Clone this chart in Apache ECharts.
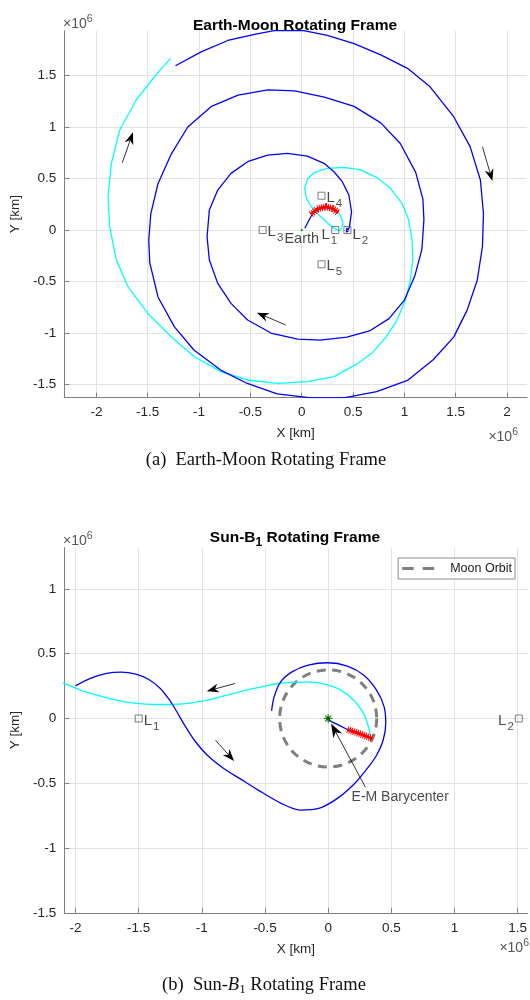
<!DOCTYPE html>
<html>
<head>
<meta charset="utf-8">
<script src="https://cdn.jsdelivr.net/npm/echarts@6/dist/echarts.min.js"></script>
<style>
html,body{margin:0;padding:0;background:#fff;}
#chart{width:530px;height:1000px;}
</style>
</head>
<body>
<div id="chart"></div>
<script>
// ---------- Earth-Moon rotating frame (units: 10^6 km) ----------
const emTicksX = [-2, -1.5, -1, -0.5, 0, 0.5, 1, 1.5, 2];
const emTicksY = [-1.5, -1, -0.5, 0, 0.5, 1, 1.5];

// spiral leg arriving at L2
const emSpiral = [
  [-1.23,1.595],[-0.98,1.73],[-0.72,1.84],[-0.46,1.90],[-0.27,1.935],[0.02,1.935],[0.25,1.89],
  [0.51,1.81],[0.77,1.70],[1.03,1.57],[1.25,1.39],[1.48,1.10],[1.64,0.81],[1.74,0.485],[1.77,0.16],
  [1.76,-0.16],[1.71,-0.485],[1.61,-0.78],[1.48,-1.04],[1.28,-1.26],[1.03,-1.46],[0.73,-1.57],
  [0.41,-1.63],[0.09,-1.63],[-0.24,-1.59],[-0.53,-1.49],[-0.79,-1.36],[-1.05,-1.165],[-1.24,-0.94],
  [-1.40,-0.65],[-1.48,-0.32],[-1.49,-0.10],[-1.47,0.16],[-1.40,0.45],[-1.27,0.74],[-1.11,1.00],
  [-0.88,1.20],[-0.62,1.31],[-0.33,1.36],[-0.07,1.35],[0.22,1.29],[0.51,1.20],[0.77,1.04],[0.96,0.84],
  [1.11,0.56],[1.18,0.30],[1.19,0.10],[1.17,-0.19],[1.10,-0.45],[1.00,-0.68],[0.85,-0.86],[0.66,-0.98],
  [0.44,-1.04],[0.18,-1.07],[-0.04,-1.06],[-0.30,-1.00],[-0.527,-0.874],[-0.689,-0.712],[-0.818,-0.518],
  [-0.90,-0.291],[-0.922,-0.065],[-0.90,0.194],[-0.818,0.388],[-0.689,0.55],[-0.527,0.663],[-0.333,0.728],
  [-0.139,0.744],[0.055,0.718],[0.217,0.647],[0.314,0.566],[0.395,0.469],[0.459,0.34],[0.485,0.178],
  [0.465,0.03],[0.45,0.0],[0.44,0.02],[0.425,0.005],[0.435,-0.02],[0.455,-0.01]
];
// leg leaving the thrust arc
const emCoast = [
  [0.356,0.168],[0.385,0.123],[0.401,0.065],[0.388,0.016],[0.362,-0.007],[0.314,0.016],[0.249,0.071],
  [0.168,0.146],[0.094,0.226],[0.045,0.307],[0.029,0.405],[0.055,0.492],[0.126,0.560],[0.249,0.599],
  [0.411,0.609],[0.573,0.583],[0.735,0.508],[0.864,0.405],[0.977,0.259],[1.042,0.097],[1.075,-0.097],
  [1.081,-0.291],[1.058,-0.485],[1.010,-0.68],[0.929,-0.874],[0.82,-1.04],[0.69,-1.19],[0.54,-1.30],
  [0.314,-1.424],[0.055,-1.472],[-0.236,-1.489],[-0.528,-1.456],[-0.786,-1.375],[-1.045,-1.23],
  [-1.272,-1.036],[-1.498,-0.81],[-1.693,-0.55],[-1.806,-0.29],[-1.871,0.032],[-1.887,0.324],
  [-1.854,0.647],[-1.773,0.971],[-1.612,1.262],[-1.434,1.489],[-1.278,1.667]
];
const emLaunch = [[0.03,0.017],[0.065,0.085],[0.10,0.15]];
const emThrust = [[0.09,0.152],[0.152,0.204],[0.233,0.226],[0.298,0.210],[0.356,0.168]];
const emPoints = [
  {name:'L1', x:0.326, y:0},
  {name:'L2', x:0.445, y:0},
  {name:'L3', x:-0.381, y:0},
  {name:'L4', x:0.192, y:0.333},
  {name:'L5', x:0.192, y:-0.333}
];
const emArrows = [
  [-1.748,0.653,-1.644,0.948],
  [-0.155,-0.922,-0.437,-0.803],
  [1.76,0.809,1.857,0.476]
];

// ---------- Sun-B1 rotating frame (units: 10^6 km) ----------
const sbTicksX = [-2, -1.5, -1, -0.5, 0, 0.5, 1, 1.5];
const sbTicksY = [-1.5, -1, -0.5, 0, 0.5, 1];

const sbSpiral = [
  [-2.0,0.252],[-1.883,0.309],[-1.754,0.348],[-1.638,0.358],[-1.522,0.342],[-1.42,0.301],[-1.329,0.232],
  [-1.265,0.155],[-1.213,0.077],[-1.136,-0.052],[-1.059,-0.168],[-0.956,-0.284],[-0.827,-0.386],
  [-0.699,-0.464],[-0.554,-0.553],[-0.376,-0.653],[-0.222,-0.707],[-0.067,-0.692],[0.087,-0.607],
  [0.219,-0.492],[0.319,-0.374],[0.383,-0.284],[0.435,-0.168],[0.456,-0.039],[0.443,0.09],[0.383,0.219],
  [0.28,0.335],[0.152,0.404],[-0.003,0.43],[-0.158,0.412],[-0.286,0.36],[-0.376,0.283],[-0.428,0.167],
  [-0.448,0.059]
];
const sbCoast = [
  [-2.12,0.285],[-1.96,0.219],[-1.83,0.18],[-1.677,0.141],[-1.522,0.116],[-1.368,0.108],[-1.24,0.108],
  [-1.11,0.116],[-0.956,0.141],[-0.80,0.18],[-0.647,0.219],[-0.492,0.252],[-0.38,0.272],[-0.286,0.278],
  [-0.158,0.283],[-0.029,0.265],[0.10,0.219],[0.203,0.141],[0.28,0.039],[0.319,-0.065],[0.337,-0.142]
];
const sbLaunch = [[0.002,-0.013],[0.08,-0.05],[0.152,-0.085]];
const sbThrust = [[0.152,-0.085],[0.25,-0.118],[0.352,-0.155]];
const sbPoints = [
  {name:'L1', x:-1.5, y:0},
  {name:'L2', x:1.509, y:0}
];
const sbArrows = [
  [-0.737,0.27,-0.961,0.211],
  [-0.892,-0.168,-0.745,-0.328]
];
const sbBaryArrow = [[0.295,-0.53,0.023,-0.039]];
const sbBaryLabel = [0.57,-0.608];
const moonOrbit = [[0, 0, 0.3844]];   // centre x, centre y, radius

// ---------- styling ----------
const FONT = '"Liberation Sans", Arial, Helvetica, sans-serif';
const SERIF = '"Liberation Serif", "Times New Roman", serif';
const TXT = '#262626';
const BLUE = '#0000ff', CYAN = '#00ffff', RED = '#ff0000', ORBIT = '#808080';

function valueAxis(grid, min, max, ticks, name, nameGap) {
  return {
    type: 'value', gridIndex: grid, min: min, max: max,
    name: name, nameLocation: 'middle', nameGap: nameGap,
    nameTextStyle: {color: TXT, fontSize: 13.5, fontFamily: FONT},
    axisLine: {show: true, onZero: false, lineStyle: {color: '#7f7f7f', width: 1}},
    axisTick: {show: true, inside: true, length: 5, customValues: ticks, lineStyle: {color: '#7f7f7f'}},
    axisLabel: {customValues: ticks, color: TXT, fontSize: 13.5, fontFamily: FONT, margin: 8,
                formatter: v => String(v)},
    splitLine: {show: true, lineStyle: {color: '#e2e2e2', width: 1}}
  };
}

function pathLine(data, xi, color, width, z, extra) {
  return Object.assign({
    type: 'line', xAxisIndex: xi, yAxisIndex: xi, data: data,
    symbol: 'none', showSymbol: false, silent: true, z: z,
    lineStyle: {color: color, width: width}
  }, extra || {});
}

function thrust(data, xi) {
  return [
    pathLine(data, xi, RED, 3, 6),
    pathLine(data, xi, RED, 7, 6, {lineStyle: {color: RED, width: 7, type: [1, 1.1]}})
  ];
}

const labelRich = {
  m: {fontSize: 15, fontFamily: FONT, color: '#1a1a1a'},
  s: {fontSize: 11.5, fontFamily: FONT, color: '#1a1a1a', padding: [12, 0, 0, 1]}
};

function lagrange(points, xi, placement) {
  return {
    type: 'scatter', xAxisIndex: xi, yAxisIndex: xi, silent: true, z: 8,
    symbol: 'rect', symbolSize: 7,
    itemStyle: {color: 'rgba(0,0,0,0)', borderColor: '#4d4d4d', borderWidth: 0.9},
    data: points.map(p => ({
      value: [p.x, p.y],
      label: Object.assign({
        show: true, formatter: '{m|L}{s|' + p.name.slice(1) + '}', rich: labelRich
      }, placement[p.name])
    }))
  };
}

function arrowRenderer(headLen, headHalf, lineW) {
  return function (params, api) {
    const p0 = api.coord([api.value(0), api.value(1)]);
    const p1 = api.coord([api.value(2), api.value(3)]);
    const dx = p1[0] - p0[0], dy = p1[1] - p0[1];
    const len = Math.hypot(dx, dy);
    const ux = dx / len, uy = dy / len, nx = -uy, ny = ux;
    const bx = p1[0] - ux * headLen, by = p1[1] - uy * headLen;
    const notch = [p1[0] - ux * headLen * 0.7, p1[1] - uy * headLen * 0.7];
    return {
      type: 'group',
      children: [
        {type: 'line', shape: {x1: p0[0], y1: p0[1], x2: notch[0], y2: notch[1]},
         style: {stroke: '#000', lineWidth: lineW}},
        {type: 'polygon',
         shape: {points: [p1, [bx + nx * headHalf, by + ny * headHalf], notch, [bx - nx * headHalf, by - ny * headHalf]]},
         style: {fill: '#000'}}
      ]
    };
  };
}

function arrows(data, xi, headLen, headHalf, lineW) {
  return {
    type: 'custom', xAxisIndex: xi, yAxisIndex: xi, silent: true, z: 9,
    data: data, encode: {x: [0, 2], y: [1, 3]},
    renderItem: arrowRenderer(headLen, headHalf, lineW)
  };
}

const asterisk = 'path://M-0.7,-5H0.7V5H-0.7Z M-5,-0.7H5V0.7H-5Z M-3.9,-2.9L-2.9,-3.9L3.9,2.9L2.9,3.9Z M2.9,-3.9L3.9,-2.9L-2.9,3.9L-3.9,2.9Z';
// two-dash legend key for the dashed orbit
const dashKey = 'path://M0,0H11.5V3H0Z M20.5,0H32V3H20.5Z';

const exponent = {text: '\u00d710{s|6}', fontSize: 14, fontFamily: FONT, fill: '#555', verticalAlign: 'middle',
  rich: {s: {fontSize: 10.5, fontFamily: FONT, fill: '#555', padding: [0, 0, 10, 0]}}};

const option = {
  animation: false,
  backgroundColor: '#fff',
  textStyle: {fontFamily: FONT},
  title: [
    {text: 'Earth-Moon Rotating Frame', left: 290, top: 13, textAlign: 'center',
     textStyle: {fontSize: 15.5, fontWeight: 'bold', color: '#000', fontFamily: FONT}},
    {text: 'Sun-B{s|1} Rotating Frame', left: 290, top: 522, textAlign: 'center',
     textStyle: {fontSize: 15.5, fontWeight: 'bold', color: '#000', fontFamily: FONT,
       rich: {s: {fontSize: 12, fontWeight: 'bold', color: '#000', fontFamily: FONT, padding: [10, 0, 0, 0]}}}}
  ],
  legend: {
    show: true, data: [{name: 'Moon Orbit', icon: dashKey}], right: 15, top: 558, selectedMode: false,
    backgroundColor: '#fff', borderColor: '#8c8c8c', borderWidth: 1, borderRadius: 0,
    padding: [4, 3, 4, 4], itemWidth: 32, itemHeight: 3,
    itemStyle: {color: ORBIT},
    textStyle: {fontSize: 12.5, fontFamily: FONT, color: '#1a1a1a', padding: [0, 0, 0, 11]}
  },
  grid: [
    {left: 62.7, top: 30.7, width: 464.3, height: 367},
    {left: 62.9, top: 547.6, width: 474.9, height: 365.2}
  ],
  xAxis: [
    valueAxis(0, -2.314, 2.194, emTicksX, 'X [km]', 29),
    valueAxis(1, -2.09, 1.58, sbTicksX, 'X [km]', 29)
  ],
  yAxis: [
    valueAxis(0, -1.628, 1.935, emTicksY, 'Y [km]', 31),
    valueAxis(1, -1.5, 1.319, sbTicksY, 'Y [km]', 31)
  ],
  graphic: [
    {type: 'text', x: 63, y: 24, style: Object.assign({}, exponent)},
    {type: 'text', x: 518, y: 437, style: Object.assign({align: 'right'}, exponent)},
    {type: 'text', x: 63, y: 541, style: Object.assign({}, exponent)},
    {type: 'text', x: 529, y: 948, style: Object.assign({align: 'right'}, exponent)},
    {type: 'text', x: 266, y: 460, style: {text: '(a)  Earth-Moon Rotating Frame', fontSize: 18.5, fontFamily: SERIF,
      fill: '#111', align: 'center', verticalAlign: 'middle'}},
    {type: 'text', x: 264, y: 985, style: {text: '(b)  Sun-{i|B}{s|1} Rotating Frame', fontSize: 18.5, fontFamily: SERIF,
      fill: '#111', align: 'center', verticalAlign: 'middle',
      rich: {i: {fontSize: 18.5, fontStyle: 'italic', fontFamily: SERIF, fill: '#111'},
             s: {fontSize: 13, fontFamily: SERIF, fill: '#111', padding: [10, 0, 0, 0]}}}}
  ],
  series: [
    // Earth-Moon frame
    pathLine(emCoast, 0, CYAN, 1.3, 3),
    pathLine(emSpiral, 0, BLUE, 1.3, 4),
    pathLine(emLaunch, 0, BLUE, 1.3, 4),
    ...thrust(emThrust, 0),
    lagrange(emPoints, 0, {
      L1: {position: 'left', distance: -6, offset: [0, 5]},
      L2: {position: 'right', distance: 1, offset: [0, 5]},
      L3: {position: 'right', distance: 1, offset: [0, 2]},
      L4: {position: 'right', distance: 1, offset: [0, 2]},
      L5: {position: 'right', distance: 1, offset: [0, 2]}
    }),
    {type: 'scatter', xAxisIndex: 0, yAxisIndex: 0, silent: true, z: 8, symbol: 'circle', symbolSize: 2.5,
     itemStyle: {color: '#00a000'},
     data: [{value: [0, 0], label: {show: true, formatter: 'Earth', position: 'bottom', distance: 0,
       fontSize: 14.5, fontFamily: FONT, color: '#1a1a1a'}}]},
    arrows(emArrows, 0, 12, 4.5, 0.8),

    // Sun-B1 frame: Moon orbit drawn from centre and radius
    {type: 'custom', name: 'Moon Orbit', xAxisIndex: 1, yAxisIndex: 1, silent: true, z: 2,
     data: moonOrbit, encode: {x: 0, y: 1}, itemStyle: {color: ORBIT},
     renderItem: function (params, api) {
       const c = api.coord([api.value(0), api.value(1)]);
       const r = api.size([api.value(2), 0])[0];
       return {type: 'circle', shape: {cx: c[0], cy: c[1], r: r},
               style: {fill: 'none', stroke: ORBIT, lineWidth: 3, lineDash: [9, 6.5]}};
     }},
    pathLine(sbCoast, 1, CYAN, 1.3, 3, {smooth: 0.3}),
    pathLine(sbSpiral, 1, BLUE, 1.3, 4, {smooth: 0.3}),
    pathLine(sbLaunch, 1, BLUE, 1.3, 4),
    ...thrust(sbThrust, 1),
    lagrange(sbPoints, 1, {
      L1: {position: 'right', distance: 1, offset: [0, 2]},
      L2: {position: 'left', distance: 1, offset: [0, 2]}
    }),
    {type: 'scatter', xAxisIndex: 1, yAxisIndex: 1, silent: true, z: 10, symbol: asterisk, symbolSize: 9,
     itemStyle: {color: '#007a00'}, data: [[0, 0]]},
    {type: 'scatter', xAxisIndex: 1, yAxisIndex: 1, silent: true, z: 10, symbol: 'circle', symbolSize: 4,
     itemStyle: {color: '#005500'}, data: [[0, 0]]},
    arrows(sbArrows, 1, 12, 4.5, 0.8),
    arrows(sbBaryArrow, 1, 14, 5, 0.8),
    {type: 'scatter', xAxisIndex: 1, yAxisIndex: 1, silent: true, z: 10, symbolSize: 0,
     data: [{value: sbBaryLabel, label: {show: true, formatter: 'E-M Barycenter', position: 'inside',
       fontSize: 14, fontFamily: FONT, color: '#1a1a1a'}}]}
  ]
};

const chart = echarts.init(document.getElementById('chart'));
chart.setOption(option);
</script>
</body>
</html>
